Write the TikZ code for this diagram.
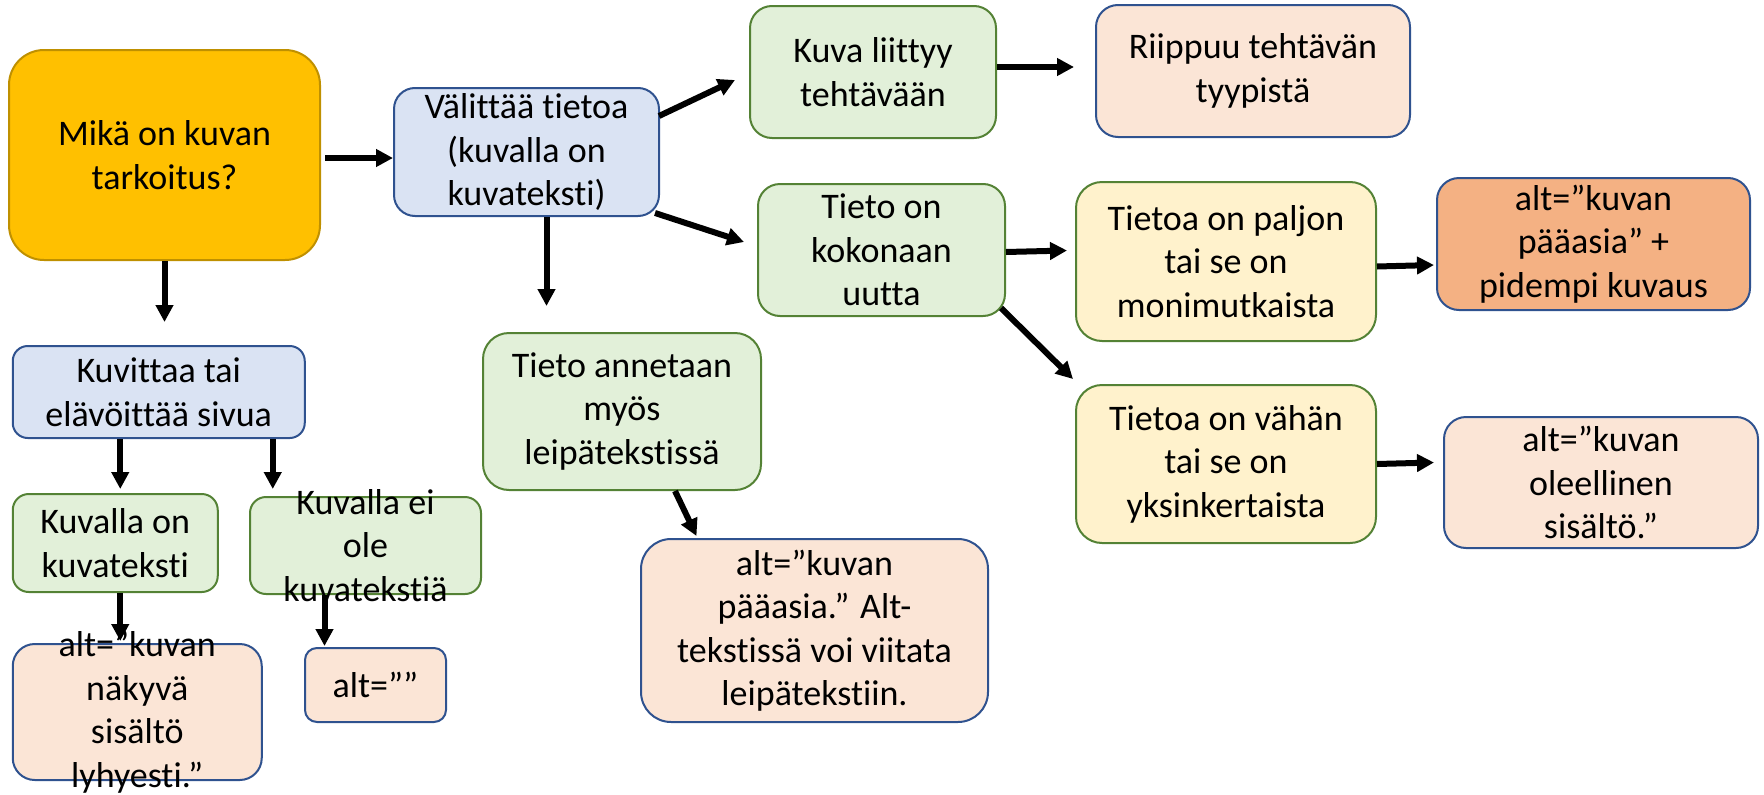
\documentclass[tikz,border=0pt]{standalone}
\usepackage{fontspec}
\setmainfont{Carlito}[Ligatures={TeX,NoCommon}]
\usetikzlibrary{arrows.meta}

\definecolor{goldfill}{HTML}{FFC000}
\definecolor{goldline}{HTML}{BF9000}
\definecolor{bluefill}{HTML}{DAE3F3}
\definecolor{blueline}{HTML}{2F528F}
\definecolor{greenfill}{HTML}{E2F0D9}
\definecolor{greenline}{HTML}{548235}
\definecolor{yellowfill}{HTML}{FFF2CC}
\definecolor{peachfill}{HTML}{FBE5D6}
\definecolor{orangefill}{HTML}{F4B183}

\begin{document}
\begin{tikzpicture}[x=1pt, y=-1pt, >={Triangle[length=17pt,width=17pt]},
  box/.style={draw, line width=2pt, rounded corners=22pt, align=center,
    inner sep=0pt, font=\fontsize{36}{43.5}\selectfont},
  goldbox/.style={box, draw=goldline, fill=goldfill},
  bluebox/.style={box, draw=blueline, fill=bluefill},
  greenbox/.style={box, draw=greenline, fill=greenfill},
  yellowbox/.style={box, draw=greenline, fill=yellowfill},
  peachbox/.style={box, draw=blueline, fill=peachfill},
  orangebox/.style={box, draw=blueline, fill=orangefill},
  overflow/.style={align=center, font=\fontsize{36}{43.5}\selectfont},
  arr/.style={->, line width=6pt}]
\useasboundingbox (0,0) rectangle (1764,795);

% Left column
% Purpose of the picture and the decorative branch
\node[goldbox, minimum width=311pt, minimum height=210pt, rounded corners=35pt]
  (main) at (164.5,155) {Mikä on kuvan\\tarkoitus?};
\node[bluebox, minimum width=292pt, minimum height=92pt, rounded corners=15pt]
  (deco) at (158.75,392) {Kuvittaa tai\\elävöittää sivua};
\node[greenbox, minimum width=205pt, minimum height=98pt, rounded corners=16pt]
  (cap) at (115.25,543) {Kuvalla on\\kuvateksti};
\node[greenbox, minimum width=231pt, minimum height=97pt, rounded corners=16pt,
  label={[overflow]center:Kuvalla ei\\ole\\kuvatekstiä}]
  (nocap) at (365.5,545.5) {};
\node[peachbox, minimum width=249pt, minimum height=136pt, rounded corners=22pt,
  label={[overflow]center:alt=”kuvan\\näkyvä\\sisältö\\lyhyesti.”}]
  (altvis) at (137.25,712) {};
\node[peachbox, minimum width=141pt, minimum height=74pt, rounded corners=12pt]
  (altempty) at (375.5,685) {alt=””};

% Middle column
% Informative picture
\node[bluebox, minimum width=265pt, minimum height=128pt, rounded corners=21pt]
  (info) at (526.5,152) {Välittää tietoa\\(kuvalla on\\kuvateksti)};
\node[greenbox, minimum width=278pt, minimum height=157pt, rounded corners=26pt]
  (body) at (622,411.5) {Tieto annetaan\\myös\\leipätekstissä};
\node[peachbox, minimum width=347pt, minimum height=183pt, rounded corners=30pt]
  (altmain) at (814.5,630.5) {alt=”kuvan\\pääasia.” Alt-\\tekstissä voi viitata\\leipätekstiin.};
\node[greenbox, minimum width=246pt, minimum height=132pt]
  (task) at (873,72) {Kuva liittyy\\tehtävään};
\node[greenbox, minimum width=247pt, minimum height=132pt]
  (new) at (881.5,250) {Tieto on\\kokonaan\\uutta};

% Right columns
% Amount of new information
\node[peachbox, minimum width=314pt, minimum height=132pt]
  (dep) at (1253,71) {Riippuu tehtävän\\tyypistä};
\node[yellowbox, minimum width=300pt, minimum height=159pt, rounded corners=26pt]
  (much) at (1226,261.5) {Tietoa on paljon\\tai se on\\monimutkaista};
\node[yellowbox, minimum width=300pt, minimum height=158pt, rounded corners=26pt]
  (little) at (1226,464) {Tietoa on vähän\\tai se on\\yksinkertaista};
\node[orangebox, minimum width=313pt, minimum height=132pt]
  (altlong) at (1593.5,244) {alt=”kuvan\\pääasia” +\\pidempi kuvaus};
\node[peachbox, minimum width=314pt, minimum height=131pt]
  (altess) at (1601,482.5) {alt=”kuvan\\oleellinen\\sisältö.”};

% Arrows
\draw[arr] ([xshift=4pt,yshift=-3pt]main.east) -- ([yshift=-6pt]info.west);
\draw[arr] (main.south) -- ([yshift=23pt]main.south |- deco.north);
\draw[arr] ([xshift=5pt]cap.north |- deco.south) -- ([xshift=5pt,yshift=4pt]cap.north);
\draw[arr] ([xshift=114pt]deco.south) -- ([xshift=114pt,yshift=7pt]deco.south |- nocap.north);
\draw[arr] ([xshift=5pt]cap.south) -- ([xshift=5pt,yshift=2pt]cap.south |- altvis.north);
\draw[arr] ([xshift=-41pt]nocap.south) -- ([xshift=-41pt,yshift=1pt]nocap.south |- altempty.north);
\draw[arr] ([xshift=20pt]info.south) -- ([xshift=20pt,yshift=26pt]info.south |- body.north);
\draw[arr] ([xshift=53pt]body.south) -- ([xshift=-118pt,yshift=2pt]altmain.north);
\draw[arr] ([xshift=-1pt,yshift=36pt]info.east) -- ([xshift=-14pt,yshift=-8pt]task.west);
\draw[arr] ([xshift=-5pt,yshift=4pt]info.south east) -- ([xshift=-13pt,yshift=8pt]new.west);
\draw[arr] ([yshift=5pt]task.east) -- ([xshift=-21pt,yshift=4pt]dep.west);
\draw[arr] ([yshift=-2pt]new.east) -- ([xshift=-8pt,yshift=11pt]much.west);
\draw[arr] ([xshift=-5pt,yshift=9pt]new.south east) -- ([xshift=-2pt,yshift=5pt]little.north west);
\draw[arr] ([yshift=-5pt]much.east) -- ([xshift=-2pt,yshift=-21pt]altlong.west);
\draw[arr] (little.east) -- ([xshift=-9pt,yshift=20pt]altess.west);
\end{tikzpicture}
\end{document}
